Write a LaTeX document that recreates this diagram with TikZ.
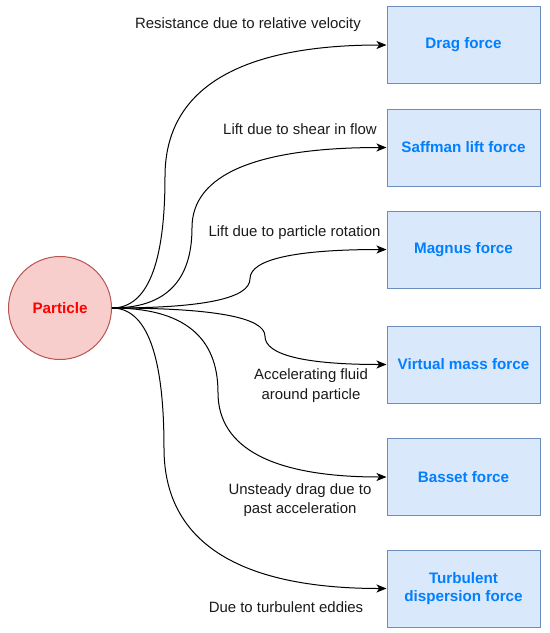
\documentclass[tikz,border=0pt]{standalone}
\usepackage{fontspec}
\setmainfont{Liberation Sans}
\usetikzlibrary{calc,arrows.meta}
\definecolor{boxfill}{HTML}{DAE8FC}
\definecolor{boxline}{HTML}{6C8EBF}
\definecolor{boxtext}{HTML}{007FFF}
\definecolor{cfill}{HTML}{F8CECC}
\definecolor{cline}{HTML}{B85450}
\definecolor{ctext}{HTML}{FF0000}
\definecolor{lblc}{HTML}{1A1A1A}
% curved orthogonal connector from particle to target #1 with vertical run at x=#2
\newcommand\fcurve[2]{%
  \coordinate (#1a) at (#2,308);
  \coordinate (#1b) at (#1a |- #1.west);
  \coordinate (#1m) at ($(#1a)!0.5!(#1b)$);
  \draw[arr] (p.east) .. controls ($(p.east)!2/3!(#1a)$) and ($(#1m)!2/3!(#1a)$) .. (#1m)
     .. controls ($(#1m)!2/3!(#1b)$) and ($(#1.west)!2/3!(#1b)$) .. (#1.west);
}
\begin{document}
\begin{tikzpicture}[x=0.75pt,y=-0.75pt,
  force/.style={draw=boxline, fill=boxfill, line width=0.75pt, minimum width=114.75pt,
    minimum height=57.75pt, text=boxtext, font=\fontsize{11.4}{14}\selectfont\bfseries,
    align=center, inner sep=0pt},
  particle/.style={circle, draw=cline, fill=cfill, line width=0.75pt, minimum size=77.25pt,
    inner sep=0pt, text=ctext, font=\fontsize{11.4}{14}\selectfont\bfseries},
  lbl/.style={text=lblc, font=\fontsize{11.2}{14.5}\selectfont, align=center, inner sep=0pt},
  arr/.style={-{Stealth[length=7.5pt,width=6pt,inset=2pt]}, line width=0.75pt}]
\useasboundingbox (0,0) rectangle (550,633);

\node[particle] (p) at (60,308) {Particle};

\node[force] (drag)   at (463.5,45)    {Drag force};
\node[force] (saff)   at (463.5,147.5) {Saffman lift force};
\node[force] (magnus) at (463.5,249.5) {Magnus force};
\node[force] (virt)   at (463.5,364.5) {Virtual mass force};
\node[force] (basset) at (463.5,477)   {Basset force};
\node[force] (turb)   at (463.5,588.5) {Turbulent\\dispersion force};

\fcurve{drag}{165}
\fcurve{saff}{192}
\fcurve{magnus}{250}
\fcurve{virt}{265}
\fcurve{basset}{218}
\fcurve{turb}{164}

\node[lbl] (l1) at (248,25)   {Resistance due to relative velocity};
\node[lbl] (l2) at (300,129)  {Lift due to shear in flow};
\node[lbl] (l3) at (294.5,233) {Lift due to particle rotation};
\node[lbl] (l4) at (311,385.5) {Accelerating fluid\\around particle};
\node[lbl] (l5) at (300,500)  {Unsteady drag due to\\past acceleration};
\node[lbl] (l6) at (286,607)  {Due to turbulent eddies};
\end{tikzpicture}
\end{document}
